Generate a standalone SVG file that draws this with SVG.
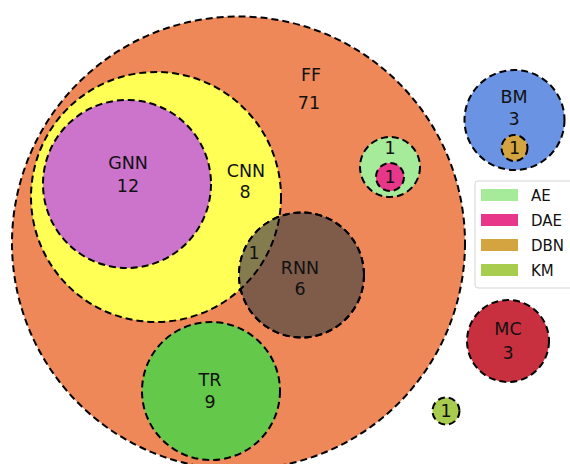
<svg xmlns="http://www.w3.org/2000/svg" width="570" height="464" viewBox="0 0 570 464">
<style>
.c{stroke:#000;stroke-width:2;stroke-dasharray:7,4;}
.t{font-family:"DejaVu Sans",sans-serif;font-size:17.5px;fill:#111;text-anchor:middle;}
.l{font-family:"DejaVu Sans",sans-serif;font-size:15px;fill:#111;}
</style>
<defs>
<clipPath id="cnnclip"><circle cx="156" cy="197" r="125"/></clipPath>
<clipPath id="rnnclip"><circle cx="301.5" cy="275" r="62.5"/></clipPath>
</defs>
<rect width="570" height="464" fill="#fff"/>
<g id="FF"><circle class="c" cx="238.5" cy="243" r="226.5" fill="#ee8859"/><text class="t" x="311" y="81">FF</text><text class="t" x="309" y="109">71</text></g>
<g id="CNN"><circle class="c" cx="156" cy="197" r="125" fill="#ffff55"/><text class="t" x="246" y="177">CNN</text><text class="t" x="245" y="198">8</text></g>
<g id="GNN"><circle class="c" cx="127" cy="184" r="84" fill="#cc73cc"/><text class="t" x="128" y="169">GNN</text><text class="t" x="128" y="192">12</text></g>
<g id="RNN"><circle class="c" cx="301.5" cy="275" r="62.5" fill="#7f5c4a"/>
<circle cx="301.5" cy="275" r="62.5" fill="#847c4e" clip-path="url(#cnnclip)"/>
<circle cx="156" cy="197" r="125" fill="none" class="c" clip-path="url(#rnnclip)"/>
<circle cx="301.5" cy="275" r="62.5" fill="none" class="c"/>
<text class="t" x="300" y="274">RNN</text><text class="t" x="300" y="295">6</text><text class="t" x="254" y="259">1</text></g>
<g id="TR"><circle class="c" cx="211" cy="391" r="69" fill="#64c84a"/><text class="t" x="210" y="386">TR</text><text class="t" x="210" y="408">9</text></g>
<g id="AE"><circle class="c" cx="390" cy="167" r="30" fill="#a6eb9a"/><text class="t" x="390" y="154">1</text></g>
<g id="DAE"><circle class="c" cx="390" cy="177" r="14" fill="#e8378a"/><text class="t" x="390" y="183">1</text></g>
<g id="BM"><circle class="c" cx="514.5" cy="120" r="50" fill="#6b93e3"/><text class="t" x="514" y="103">BM</text><text class="t" x="514" y="125">3</text></g>
<g id="DBN"><circle class="c" cx="514.5" cy="148" r="13" fill="#d4a441"/><text class="t" x="514.5" y="154">1</text></g>
<g id="MC"><circle class="c" cx="508" cy="341" r="41" fill="#c8303f"/><text class="t" x="508" y="335">MC</text><text class="t" x="508" y="359">3</text></g>
<g id="KM"><circle class="c" cx="446" cy="411" r="13.5" fill="#a8cc4e"/><text class="t" x="446" y="417">1</text></g>
<g id="legend">
<rect x="475" y="181" width="100" height="107" rx="3" fill="#fff" fill-opacity="0.85" stroke="#d5d5d5"/>
<rect x="481" y="189" width="37" height="12" fill="#a6eb9a"/><text class="l" x="531" y="201">AE</text>
<rect x="481" y="214" width="37" height="12" fill="#e8378a"/><text class="l" x="531" y="226">DAE</text>
<rect x="481" y="239" width="37" height="12" fill="#d4a441"/><text class="l" x="531" y="251">DBN</text>
<rect x="481" y="264" width="37" height="12" fill="#a8cc4e"/><text class="l" x="531" y="276">KM</text>
</g>
<g id="connectors"/>
</svg>
